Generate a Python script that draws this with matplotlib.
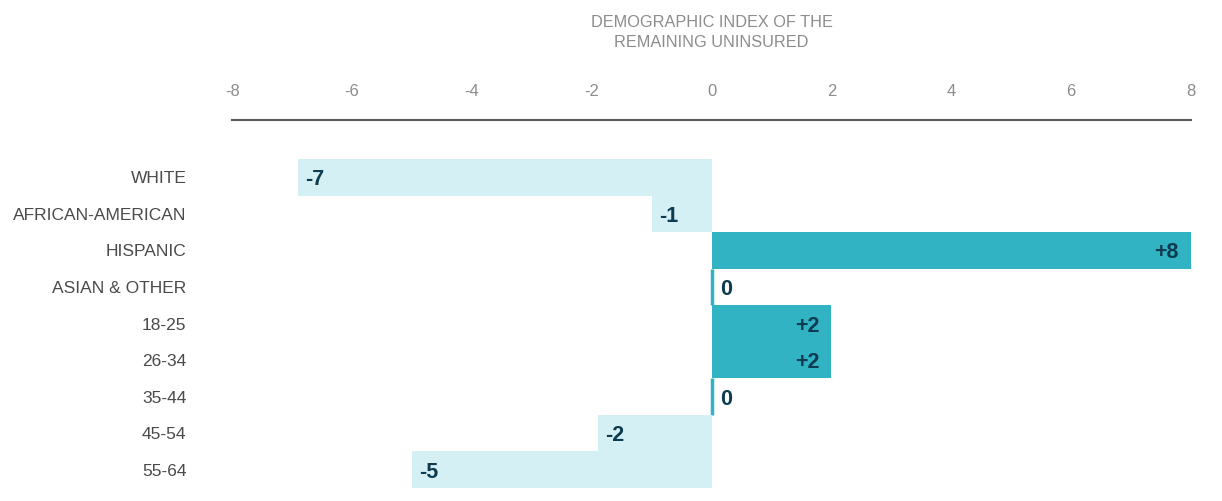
import matplotlib
matplotlib.use("Agg")
from matplotlib import pyplot as plt

grupos = ["WHITE", "AFRICAN-AMERICAN", "HISPANIC", "ASIAN & OTHER",
          "18-25", "26-34", "35-44", "45-54", "55-64"]
indice = [-6.9, -1, 8, 0, 2, 2, 0, -1.9, -5]
etiquetas = ["-7", "-1", "+8", "0", "+2", "+2", "0", "-2", "-5"]
ticks_x = [-8, -6, -4, -2, 0, 2, 4, 6, 8]

TEAL = "#31b3c3"
CLARO = "#d4f0f4"
TEXTO = "#0d3b4f"

plt.rcParams["font.family"] = ["Liberation Sans", "DejaVu Sans"]


def graficar():
    fig = plt.figure(figsize=(12.22, 5.01), dpi=100)
    ax = fig.add_axes([0.19, 0.026, 0.7846, 0.7345])

    posiciones = list(range(len(grupos)))
    colores = [CLARO if v < 0 else TEAL for v in indice]
    ax.barh(posiciones, indice, height=1.0, color=colores,
            edgecolor=colores, linewidth=[2.5 if v == 0 else 0 for v in indice])

    for y, v, t in zip(posiciones, indice, etiquetas):
        if v < 0:
            x, ha = v + 0.12, "left"
        elif v > 0:
            x, ha = v - 0.2, "right"
        else:
            x, ha = 0.15, "left"
        ax.text(x, y, t, ha=ha, va="center_baseline", fontsize=15.5,
                fontweight="bold", color=TEXTO)

    ax.set_xlim(-8, 8)
    ax.set_ylim(8.5, -1.57)
    ax.set_xticks(ticks_x)
    ax.set_xticklabels([str(t) for t in ticks_x])
    ax.xaxis.tick_top()
    ax.tick_params(axis="x", length=0, pad=15, labelsize=12, labelcolor="#8c8c8c")
    ax.set_yticks(posiciones)
    ax.set_yticklabels(grupos)
    ax.tick_params(axis="y", length=0, pad=33, labelsize=12.5, labelcolor="#4a4a4a")

    for lado in ["left", "right", "bottom"]:
        ax.spines[lado].set_visible(False)
    ax.spines["top"].set_color("#5a5a5a")
    ax.spines["top"].set_linewidth(1.5)

    fig.text(0.5823, 0.97, "DEMOGRAPHIC INDEX OF THE\nREMAINING UNINSURED",
             ha="center", va="top", fontsize=11.7, color="#8c8c8c", linespacing=1.45)

    fig.savefig("out.png", dpi=100)


if __name__ == "__main__":
    graficar()
